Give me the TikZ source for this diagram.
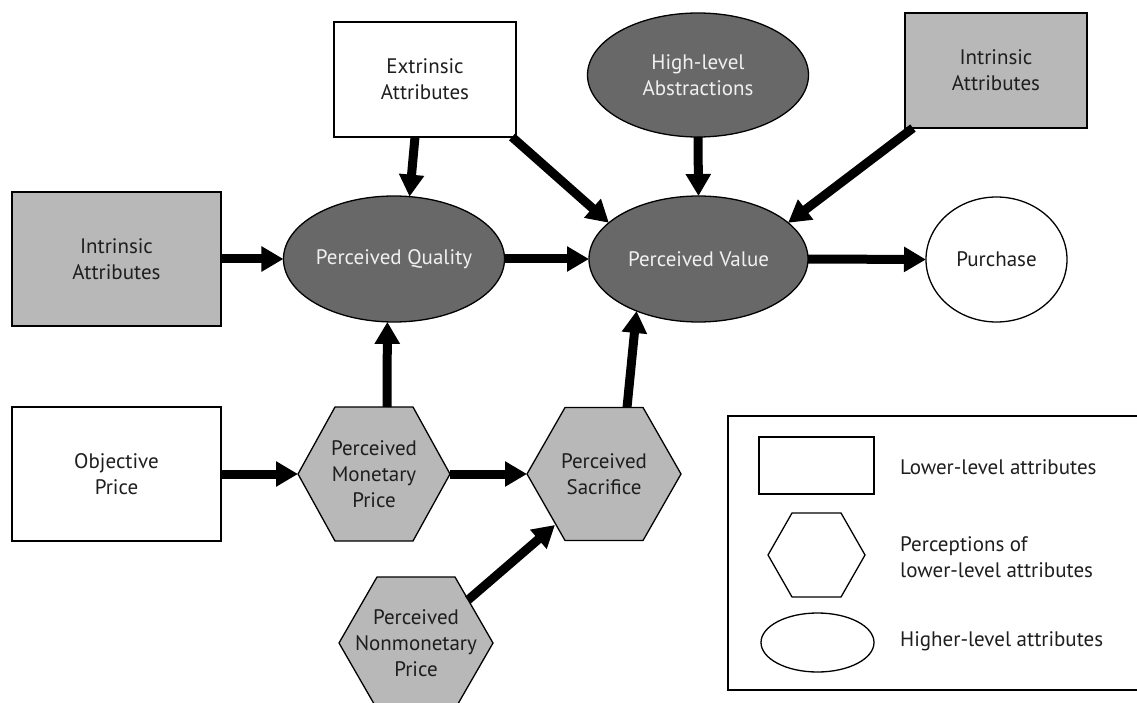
\documentclass[tikz,border=0pt]{standalone}
\usepackage{fontspec}
\setmainfont{PT Sans}
\usetikzlibrary{shapes.geometric,arrows.meta,calc}
\pgfdeclarelayer{background}
\pgfsetlayers{background,main}
\definecolor{darkfill}{RGB}{104,104,104}
\definecolor{lightfill}{RGB}{184,184,184}
\definecolor{txt}{RGB}{30,30,30}
\definecolor{wtxt}{RGB}{240,240,240}
\tikzset{
 base/.style={draw=black, line width=1.3pt, inner sep=0pt, outer sep=0pt, align=center, text=txt, font=\fontsize{21}{26}\selectfont},
 whitebox/.style={base, rectangle, fill=white},
 graybox/.style={base, rectangle, fill=lightfill},
 darkell/.style={base, ellipse, fill=darkfill, text=wtxt},
 whiteell/.style={base, ellipse, fill=white},
 hexnode/.style={base, rectangle, draw=none, fill=none},
 hexdraw/.style={draw=black, line width=1.3pt, line join=miter},
 conn/.style={line width=9pt, -{Triangle[length=22pt,width=24pt]}},
 legtext/.style={anchor=west, align=left, text=txt, font=\fontsize{21}{26}\selectfont, inner sep=0pt},
}
\newcommand\hexbg[3]{%
 \begin{pgfonlayer}{background}
 \draw[hexdraw, fill=#3] (#1.west) -- ($(#1.north west)+(#2,0)$) -- ($(#1.north east)+(-#2,0)$) -- (#1.east) -- ($(#1.south east)+(-#2,0)$) -- ($(#1.south west)+(#2,0)$) -- cycle;
 \end{pgfonlayer}}
\begin{document}
\begin{tikzpicture}[x=1pt,y=-1pt]
\useasboundingbox (0,0) rectangle (1137,703);
% main nodes
\node[graybox, minimum width=209pt, minimum height=134pt] (intL) at (116.5,259) {Intrinsic\\Attributes};
\node[whitebox, minimum width=182pt, minimum height=115pt] (ext) at (425,79.5) {Extrinsic\\Attributes};
\node[darkell, minimum width=221pt, minimum height=124pt] (hla) at (698,75) {High-level\\Abstractions};
\node[graybox, minimum width=182pt, minimum height=115pt] (intR) at (996,70.5) {Intrinsic\\Attributes};
\node[darkell, minimum width=220pt, minimum height=126pt] (pq) at (394,259) {Perceived Quality};
\node[darkell, minimum width=219pt, minimum height=126pt] (pv) at (698.5,259) {Perceived Value};
\node[whiteell, minimum width=141pt, minimum height=125pt] (pur) at (996.5,259.5) {Purchase};
\node[whitebox, minimum width=209pt, minimum height=134pt] (obj) at (116.5,474) {Objective\\Price};
\node[hexnode, minimum width=152pt, minimum height=134pt] (pmp) at (374,474) {Perceived\\Monetary\\Price};
\hexbg{pmp}{37}{lightfill}
\node[hexnode, minimum width=154pt, minimum height=133pt] (ps) at (604,474) {Perceived\\Sacrifice};
\hexbg{ps}{38}{lightfill}
\node[hexnode, minimum width=154pt, minimum height=132pt] (pnp) at (416,643) {Perceived\\Nonmonetary\\Price};
\hexbg{pnp}{38}{lightfill}
% connectors
\draw[conn] (intL.east) -- (pq.west);
\draw[conn] ($(ext.south)+(-10,0)$) -- (pq.76);
\draw[conn] ($(ext.south east)+(-4,0)$) -- (pv.158);
\draw[conn] (pq.east) -- (pv.west);
\draw[conn] (hla.south) -- (pv.north);
\draw[conn] ($(intR.south west)+(8,0)$) -- (pv.22);
\draw[conn] (pv.east) -- (pur.west);
\draw[conn] ($(pmp.north)+(13,0)$) -- (pq.264);
\draw[conn] (obj.east) -- (pmp.west);
\draw[conn] (pmp.east) -- (ps.west);
\draw[conn] ($(ps.north)+(23,0)$) -- (pv.220);
\draw[conn] ($(pnp.center)+(52,-43)$) -- ($(ps.center)+(-49,51)$);
% legend
\node[draw=black, line width=1.3pt, fill=none, inner sep=0pt, outer sep=0pt, minimum width=422pt, minimum height=274pt] (legend) at (939,553) {};
\node[whitebox, minimum width=115pt, minimum height=57pt] (lrect) at (816.5,465.5) {};
\node[hexnode, minimum width=97pt, minimum height=84pt] (lhex) at (816.5,555) {};
\hexbg{lhex}{24}{white}
\node[whiteell, minimum width=113pt, minimum height=59pt] (lell) at (817.5,642.5) {};
\node[legtext] (l1) at (900,467) {Lower-level attributes};
\node[legtext] (l2) at (900,557) {Perceptions of\\lower-level attributes};
\node[legtext] (l3) at (900,641) {Higher-level attributes};
\end{tikzpicture}
\end{document}
